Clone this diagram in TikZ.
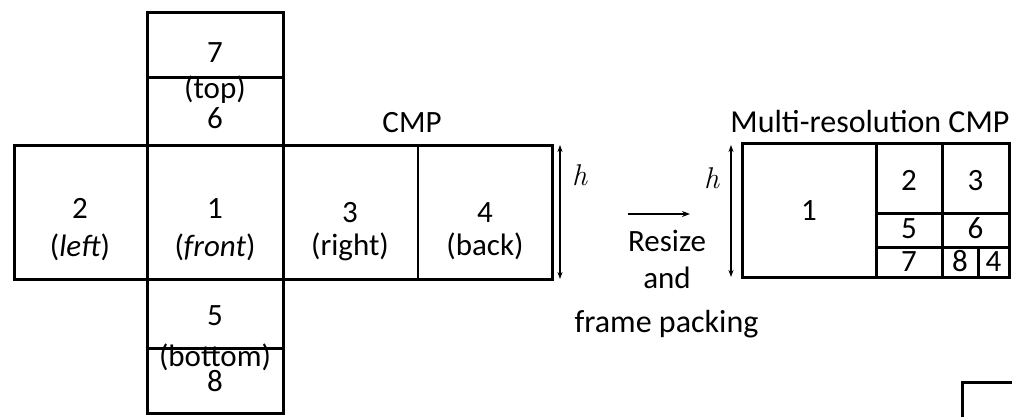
\documentclass[tikz,border=0pt]{standalone}
\usepackage{fontspec}
\setmainfont{Carlito}
\newfontfamily\hfont{Latin Modern Roman}
\usetikzlibrary{arrows.meta}
\begin{document}
\begin{tikzpicture}[x=1pt,y=-1pt,
  face/.style={draw, line width=3pt, inner sep=0pt, outer sep=0pt},
  thinface/.style={draw, line width=2pt, inner sep=0pt, outer sep=0pt},
  lbl/.style={anchor=base, inner sep=0pt, font=\fontsize{31}{37}\selectfont},
  hlbl/.style={anchor=base, inner sep=0pt, font=\hfont\itshape\fontsize{30}{36}\selectfont},
  dimarrow/.style={line width=1.3pt, {Stealth[length=7pt,width=5pt]}-{Stealth[length=7pt,width=5pt]}},
  steparrow/.style={line width=1.5pt, -{Stealth[length=8pt,width=6pt]}}]
\useasboundingbox (0,0) rectangle (1012,416);
% cube cross
\node[face, minimum width=136pt, minimum height=65pt] (top7) at (215,44.5) {};
\node[face, minimum width=136pt, minimum height=68pt] (top6) at (215,111) {};
\node[face, minimum width=133pt, minimum height=134pt] (left) at (80.5,212) {};
\node[face, minimum width=136pt, minimum height=134pt] (front) at (215,212) {};
\node[thinface, minimum width=135pt, minimum height=134pt] (right) at (350.5,212) {};
\node[thinface, minimum width=134pt, minimum height=134pt] (back) at (485,212) {};
\draw[line width=3pt] (right.north west) -- (back.north east) -- (back.south east) -- (right.south west);
\node[face, minimum width=136pt, minimum height=69pt] (bot5) at (215,313.5) {};
\node[face, minimum width=136pt, minimum height=65pt] (bot8) at (215,380.5) {};
% cube labels
\node[lbl] (t7) at (215,62) {7};
\node[lbl] (ttop) at (215,98) {(top)};
\node[lbl] (t6) at (215,128) {6};
\node[lbl] (t2) at (80,218) {2};
\node[lbl] (tleft) at (80,256) {(\textit{left})};
\node[lbl] (t1) at (215,218) {1};
\node[lbl] (tfront) at (215,256) {(\textit{front})};
\node[lbl] (t3) at (350,222) {3};
\node[lbl] (tright) at (350,255) {(right)};
\node[lbl] (t4) at (485,222) {4};
\node[lbl] (tback) at (485,255) {(back)};
\node[lbl] (t5) at (215,325) {5};
\node[lbl] (tbottom) at (215,366) {(bottom)};
\node[lbl] (t8) at (215,391) {8};
\node[lbl] (cmp) at (412,132) {CMP};
% h arrows
\coordinate (h1a) at (560,145);
\coordinate (h1b) at (560,279);
\draw[dimarrow] (h1a) -- (h1b);
\node[hlbl] (hl1) at (579.5,185) {h};
\coordinate (h2a) at (731,145);
\coordinate (h2b) at (731,277);
\draw[dimarrow] (h2a) -- (h2b);
\node[hlbl] (hl2) at (711.5,188) {h};
% transform arrow
\coordinate (ra) at (628,214);
\coordinate (rb) at (690,214);
\draw[steparrow] (ra) -- (rb);
\node[lbl] (rs) at (667,251) {Resize};
\node[lbl] (an) at (667,288) {and};
\node[lbl, font=\fontsize{32}{38}\selectfont] (fp) at (666.5,332) {frame packing};
% multi-resolution CMP
\node[lbl, font=\fontsize{32}{38}\selectfont] (mcmp) at (870,132) {Multi-resolution CMP};
\node[face, minimum width=134pt, minimum height=134pt] (m1) at (809,210) {};
\node[face, minimum width=66pt, minimum height=70pt] (m2) at (909,178) {};
\node[face, minimum width=67pt, minimum height=70pt] (m3) at (975.5,178) {};
\node[face, minimum width=66pt, minimum height=34pt] (m5) at (909,230) {};
\node[face, minimum width=67pt, minimum height=34pt] (m6) at (975.5,230) {};
\node[face, minimum width=66pt, minimum height=30pt] (m7) at (909,262) {};
\node[face, minimum width=36pt, minimum height=30pt] (m8) at (960,262) {};
\node[face, minimum width=31pt, minimum height=30pt] (m4) at (993.5,262) {};
\node[lbl] (l1) at (809,220) {1};
\node[lbl] (l2) at (909,190) {2};
\node[lbl] (l3) at (975.5,190) {3};
\node[lbl] (l5) at (909,238) {5};
\node[lbl] (l6) at (975.5,238) {6};
\node[lbl] (l7) at (909,271) {7};
\node[lbl] (l8) at (960,271) {8};
\node[lbl] (l4) at (993.5,271) {4};
% partial frame at bottom right
\coordinate (pa) at (1020,382);
\coordinate (pb) at (962,382);
\coordinate (pc) at (962,420);
\draw[line width=3pt] (pa) -- (pb) -- (pc);
\end{tikzpicture}
\end{document}
